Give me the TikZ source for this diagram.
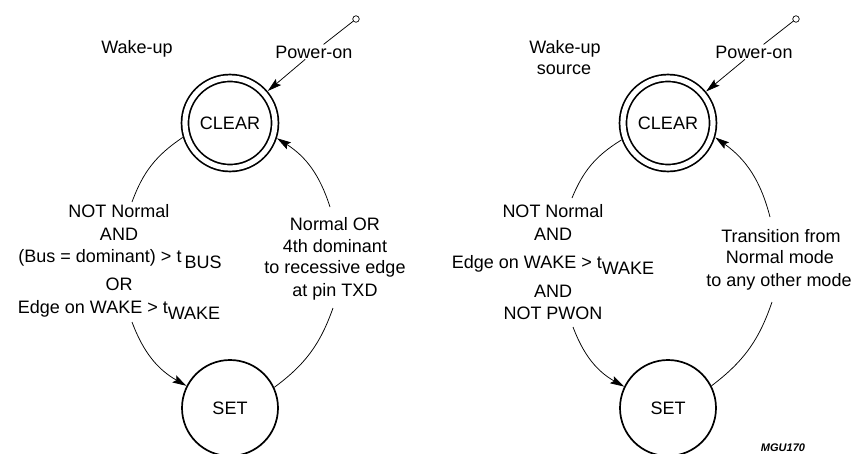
\documentclass[tikz,border=0pt]{standalone}
\usepackage{fontspec}
\setmainfont{Liberation Sans}
\usetikzlibrary{arrows.meta}
\begin{document}
\begin{tikzpicture}[x=1pt,y=1pt,
  txt/.style={font=\fontsize{18}{22}\selectfont, inner sep=1pt, anchor=base},
  clearstate/.style={circle, draw, line width=1.7pt, double, double distance=5.2pt,
    minimum size=90pt, inner sep=0pt, outer sep=4.5pt, font=\fontsize{18}{22}\selectfont},
  setstate/.style={circle, draw, line width=1.7pt, minimum size=96pt, inner sep=0pt,
    font=\fontsize{18}{22}\selectfont},
  term/.style={circle, draw, line width=0.7pt, minimum size=6.5pt, inner sep=0pt},
  conn/.style={line width=0.75pt},
  arr/.style={conn, -{Stealth[length=14pt,width=8pt,inset=2.5pt]}},
]
\useasboundingbox (0,0) rectangle (855,-453);

% ---------------- left diagram ----------------
\node[clearstate] (clear1) at (230,-123) {CLEAR};
\node[setstate] (set1) at (230,-408) {SET};
\node[term] (t1) at (356,-19) {};
\node[txt] (title1) at (137,-53) {Wake-up};
\node[txt] (pw1) at (314,-58) {Power-on};
\draw[conn] (t1) -- (pw1);
\draw[arr] (pw1) -- (clear1);

\node[txt] (l1a) at (119,-217) {NOT Normal};
\node[txt] (l1b) at (119,-240) {AND};
\node[txt] (l1c) at (120,-262) {(Bus = dominant) > t\,\raisebox{-6pt}{BUS}};
\node[txt] (l1d) at (119,-290) {OR};
\node[txt] (l1e) at (119,-313) {Edge on WAKE > t\raisebox{-6pt}{WAKE}};

\node[txt] (r1a) at (335,-230) {Normal OR};
\node[txt] (r1b) at (335,-252) {4th dominant};
\node[txt] (r1c) at (335,-273) {to recessive edge};
\node[txt] (r1d) at (335,-296) {at pin TXD};

\coordinate (a1e) at (132,-202);
\coordinate (a2s) at (132,-322);
\coordinate (a3e) at (333,-308);
\coordinate (a4s) at (330,-207);
\draw[conn] (clear1.197) to[bend right=18] (a1e);
\draw[arr] (a2s) to[bend right=20] (set1.153);
\draw[conn] (set1.25) to[bend right=17] (a3e);
\draw[arr] (a4s) to[bend right=20] (clear1.342);

% ---------------- right diagram ----------------
\node[clearstate] (clear2) at (668,-123) {CLEAR};
\node[setstate] (set2) at (668,-408) {SET};
\node[term] (t2) at (796,-19) {};
\node[txt] (title2a) at (565,-53) {Wake-up};
\node[txt] (title2b) at (564,-74) {source};
\node[txt] (pw2) at (754,-58) {Power-on};
\draw[conn] (t2) -- (pw2);
\draw[arr] (pw2) -- (clear2);

\node[txt] (l2a) at (553,-217) {NOT Normal};
\node[txt] (l2b) at (553,-240) {AND};
\node[txt] (l2c) at (553,-268) {Edge on WAKE > t\raisebox{-6pt}{WAKE}};
\node[txt] (l2d) at (553,-297) {AND};
\node[txt] (l2e) at (553,-319) {NOT PWON};

\node[txt] (r2a) at (781,-242) {Transition from};
\node[txt] (r2b) at (780,-263) {Normal mode};
\node[txt] (r2c) at (779,-286) {to any other mode};

\coordinate (a5e) at (572,-198);
\coordinate (a6s) at (573,-327);
\coordinate (a7e) at (772,-302);
\coordinate (a8s) at (770,-217);
\draw[conn] (clear2.200) to[bend right=18] (a5e);
\draw[arr] (a6s) to[bend right=20] (set2.154);
\draw[conn] (set2.27) to[bend right=17] (a7e);
\draw[arr] (a8s) to[bend right=20] (clear2.343);

\node[font=\fontsize{11}{13}\selectfont\bfseries\itshape, inner sep=0pt, anchor=north]
  (code) at (783,-443.5) {MGU170};
\end{tikzpicture}
\end{document}
